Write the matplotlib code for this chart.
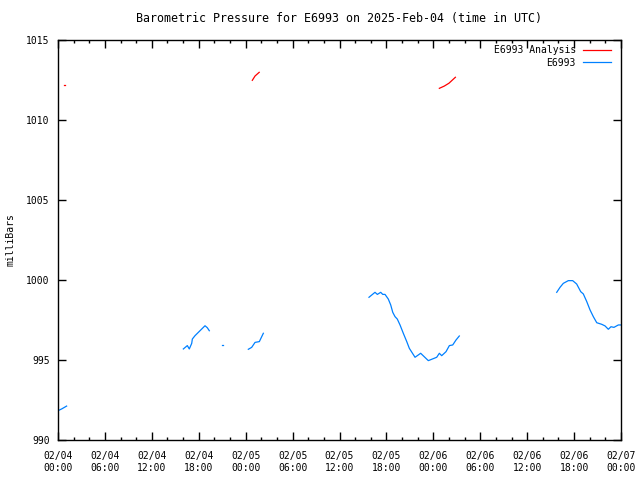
import numpy as np
import matplotlib
matplotlib.use("Agg")
import matplotlib.pyplot as plt
from matplotlib.ticker import MultipleLocator, FixedLocator
from matplotlib.lines import Line2D

# =========================
# DATA (hours since 02/04 00:00 UTC, millibars)
# =========================
# observed pressure, separate segments (gaps in between)
obs_h1 = [0.0, 0.5, 1.1]
obs_p1 = [991.83, 991.95, 992.12]

obs_h2 = [16.03, 16.54, 16.79, 17.10, 17.18, 17.52, 18.16, 18.80, 19.09, 19.35]
obs_p2 = [995.69, 995.90, 995.69, 996.04, 996.31, 996.52, 996.83, 997.14, 997.02, 996.83]

obs_h3 = [21.0, 21.05]
obs_p3 = [995.94, 995.94]

obs_h4 = [24.34, 24.77, 25.20, 25.75, 26.26]
obs_p4 = [995.67, 995.79, 996.10, 996.15, 996.67]

obs_h5 = [39.77, 40.54, 40.84, 41.27, 41.53, 41.82, 42.24, 42.55, 42.81, 43.10,
          43.39, 43.74, 44.16, 44.60, 44.93, 45.66, 46.38, 47.36, 48.43, 48.77,
          49.07, 49.62, 50.05, 50.48, 50.90, 51.32]
obs_p5 = [998.92, 999.23, 999.10, 999.23, 999.10, 999.10, 998.81, 998.44, 997.98, 997.71,
          997.56, 997.19, 996.67, 996.15, 995.73, 995.17, 995.42, 994.96, 995.17, 995.42,
          995.27, 995.52, 995.90, 995.94, 996.25, 996.50]

obs_h6 = [63.78, 64.20, 64.62, 65.26, 65.82, 66.33, 66.85, 67.18, 67.62, 68.04,
          68.46, 68.90, 69.54, 69.96, 70.38, 70.72, 71.10, 71.66, 72.0]
obs_p6 = [999.23, 999.54, 999.79, 999.96, 999.96, 999.75, 999.27, 999.13, 998.65, 998.13,
          997.71, 997.33, 997.23, 997.13, 996.92, 997.08, 997.04, 997.19, 997.19]

# analysis pressure
ana_h1 = [0.8, 0.85]
ana_p1 = [1012.17, 1012.17]

ana_h2 = [24.85, 25.2, 25.73]
ana_p2 = [1012.48, 1012.75, 1012.98]

ana_h3 = [48.77, 49.4, 50.0, 50.82]
ana_p3 = [1011.98, 1012.12, 1012.30, 1012.67]

tick_labels = ["02/04\n00:00", "02/04\n06:00", "02/04\n12:00", "02/04\n18:00",
               "02/05\n00:00", "02/05\n06:00", "02/05\n12:00", "02/05\n18:00",
               "02/06\n00:00", "02/06\n06:00", "02/06\n12:00", "02/06\n18:00",
               "02/07\n00:00"]

# =========================
# FIGURE
# =========================
plt.rcParams['font.family'] = 'DejaVu Sans Mono'
plt.rcParams['font.size'] = 7

blue = '#0080ff'
red = '#ff0000'

fig = plt.figure(figsize=(6.4, 4.8), dpi=100)
ax = fig.add_axes([58/640, 40/480, 563/640, 400/480])

for h, p in [(obs_h1, obs_p1), (obs_h2, obs_p2), (obs_h3, obs_p3),
             (obs_h4, obs_p4), (obs_h5, obs_p5), (obs_h6, obs_p6)]:
    ax.plot(h, p, color=blue, lw=0.9)
for h, p in [(ana_h1, ana_p1), (ana_h2, ana_p2), (ana_h3, ana_p3)]:
    ax.plot(h, p, color=red, lw=0.9)

ax.set_xlim(0, 72)
ax.set_ylim(990, 1015)
ax.xaxis.set_major_locator(FixedLocator(np.arange(0, 73, 6)))
ax.set_xticklabels(tick_labels)
ax.xaxis.set_minor_locator(MultipleLocator(2))
ax.yaxis.set_major_locator(MultipleLocator(5))

ax.tick_params(which='both', direction='in', top=True, right=True, width=1)
ax.tick_params(which='major', length=6)
ax.tick_params(axis='x', which='major', pad=8)
ax.tick_params(axis='y', which='major', pad=6)
ax.tick_params(which='minor', length=2.3)
for s in ax.spines.values():
    s.set_linewidth(1)

ax.set_ylabel("milliBars", labelpad=8)
ax.set_title("Barometric Pressure for E6993 on 2025-Feb-04 (time in UTC)", pad=13)

handles = [Line2D([], [], color=red, lw=0.9), Line2D([], [], color=blue, lw=0.9)]
ax.legend(handles, ["E6993 Analysis", "E6993"], loc='upper right', frameon=False,
          bbox_to_anchor=(0.987, 0.995), markerfirst=False, handlelength=2.9,
          handletextpad=0.7, labelspacing=0.3, borderaxespad=0.0, borderpad=0.3)

fig.savefig("out.png", dpi=100)
